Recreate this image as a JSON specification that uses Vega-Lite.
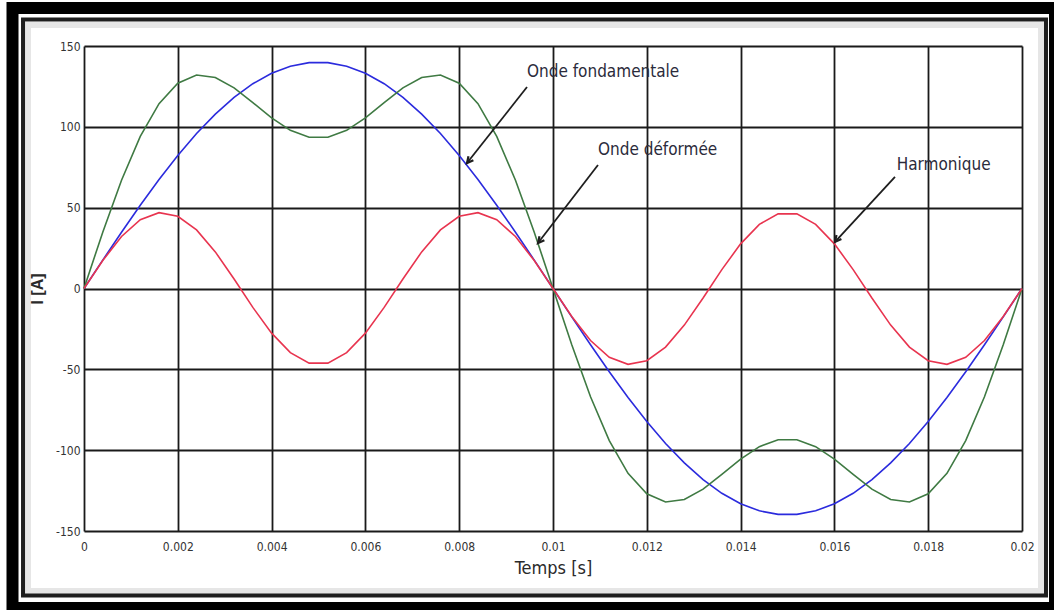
{
  "$schema": "https://vega.github.io/schema/vega-lite/v6.json",
  "width": 938,
  "height": 485,
  "autosize": {"type": "none"},
  "padding": {"left": 84, "top": 46, "right": 32, "bottom": 79},
  "background": "#ffffff",
  "config": {
    "view": {"stroke": null},
    "axis": {
      "domain": false,
      "ticks": false,
      "grid": true,
      "gridColor": "#1a1a1a",
      "gridWidth": 1.8,
      "gridOpacity": 1,
      "labelFont": "'DejaVu Sans Condensed', 'Liberation Sans', sans-serif",
      "labelFontSize": 12,
      "labelColor": "#333333",
      "titleColor": "#2a2a2a"
    }
  },
  "encoding": {
    "x": {
      "field": "t", "type": "quantitative",
      "scale": {"domain": [0, 0.02], "nice": false, "zero": false},
      "axis": {
        "title": "Temps [s]",
        "values": [0, 0.002, 0.004, 0.006, 0.008, 0.01, 0.012, 0.014, 0.016, 0.018, 0.02],
        "labelExpr": "'' + datum.value",
        "labelFlush": false,
        "labelPadding": 10,
        "titleFont": "'DejaVu Sans Condensed', 'Liberation Sans', sans-serif",
        "titleFontSize": 18,
        "titleFontWeight": "normal",
        "titlePadding": 7
      }
    },
    "y": {
      "field": "i", "type": "quantitative",
      "scale": {"domain": [-150, 150], "nice": false, "zero": false},
      "axis": {
        "title": "I [A]",
        "values": [-150, -100, -50, 0, 50, 100, 150],
        "labelExpr": "'' + datum.value",
        "labelFlush": false,
        "labelPadding": 4,
        "titleFont": "'Liberation Sans', sans-serif",
        "titleFontSize": 16,
        "titleFontWeight": "bold",
        "titlePadding": 10
      }
    }
  },
  "layer": [
    {
      "data": {"values": [{"t": -0.0015245, "t2": 0.020704, "i": 173.5, "i2": -197.6}]},
      "mark": {"type": "rect", "filled": false, "stroke": "#000000", "strokeWidth": 12},
      "encoding": {"x2": {"field": "t2"}, "y2": {"field": "i2"}}
    },
    {
      "data": {"values": [{"t": -0.001194, "t2": 0.020405, "i": 163.0, "i2": -187.1}]},
      "mark": {"type": "rect", "filled": false, "stroke": "#9a9a9a", "strokeWidth": 6, "strokeOpacity": 0.25},
      "encoding": {"x2": {"field": "t2"}, "y2": {"field": "i2"}}
    },
    {
      "data": {"values": [{"t": -0.0013, "t2": 0.020512, "i": 166.4, "i2": -189.9}]},
      "mark": {"type": "rect", "filled": false, "stroke": "#1e1e1e", "strokeWidth": 4},
      "encoding": {"x2": {"field": "t2"}, "y2": {"field": "i2"}}
    },
    {
      "data": {"values": [
        {"t": 0, "fond": 0, "harm": 0, "def": 0},
        {"t": 0.0004, "fond": 17.55, "harm": 17.30, "def": 34.85},
        {"t": 0.0008, "fond": 34.82, "harm": 32.17, "def": 66.99},
        {"t": 0.0012, "fond": 51.54, "harm": 42.53, "def": 94.07},
        {"t": 0.0016, "fond": 67.45, "harm": 46.91, "def": 114.36},
        {"t": 0.002, "fond": 82.29, "harm": 44.70, "def": 126.99},
        {"t": 0.0024, "fond": 95.84, "harm": 36.21, "def": 132.05},
        {"t": 0.0028, "fond": 107.87, "harm": 22.64, "def": 130.51},
        {"t": 0.0032, "fond": 118.21, "harm": 5.89, "def": 124.10},
        {"t": 0.0036, "fond": 126.68, "harm": -11.69, "def": 114.99},
        {"t": 0.004, "fond": 133.15, "harm": -27.63, "def": 105.52},
        {"t": 0.0044, "fond": 137.52, "harm": -39.68, "def": 97.84},
        {"t": 0.0048, "fond": 139.72, "harm": -46.17, "def": 93.55},
        {"t": 0.0052, "fond": 139.72, "harm": -46.17, "def": 93.55},
        {"t": 0.0056, "fond": 137.52, "harm": -39.68, "def": 97.84},
        {"t": 0.006, "fond": 133.15, "harm": -27.63, "def": 105.52},
        {"t": 0.0064, "fond": 126.68, "harm": -11.69, "def": 114.99},
        {"t": 0.0068, "fond": 118.21, "harm": 5.89, "def": 124.10},
        {"t": 0.0072, "fond": 107.87, "harm": 22.64, "def": 130.51},
        {"t": 0.0076, "fond": 95.84, "harm": 36.21, "def": 132.05},
        {"t": 0.008, "fond": 82.29, "harm": 44.70, "def": 126.99},
        {"t": 0.0084, "fond": 67.45, "harm": 46.91, "def": 114.36},
        {"t": 0.0088, "fond": 51.54, "harm": 42.53, "def": 94.07},
        {"t": 0.0092, "fond": 34.82, "harm": 32.17, "def": 66.99},
        {"t": 0.0096, "fond": 17.55, "harm": 17.30, "def": 34.85},
        {"t": 0.01, "fond": 0, "harm": 0, "def": 0},
        {"t": 0.0104, "fond": -17.55, "harm": -17.30, "def": -34.85},
        {"t": 0.0108, "fond": -34.82, "harm": -32.17, "def": -66.99},
        {"t": 0.0112, "fond": -51.54, "harm": -42.53, "def": -94.07},
        {"t": 0.0116, "fond": -67.45, "harm": -46.91, "def": -114.36},
        {"t": 0.012, "fond": -82.29, "harm": -44.70, "def": -126.99},
        {"t": 0.0124, "fond": -95.84, "harm": -36.21, "def": -132.05},
        {"t": 0.0128, "fond": -107.87, "harm": -22.64, "def": -130.51},
        {"t": 0.0132, "fond": -118.21, "harm": -5.89, "def": -124.10},
        {"t": 0.0136, "fond": -126.68, "harm": 11.69, "def": -114.99},
        {"t": 0.014, "fond": -133.15, "harm": 27.63, "def": -105.52},
        {"t": 0.0144, "fond": -137.52, "harm": 39.68, "def": -97.84},
        {"t": 0.0148, "fond": -139.72, "harm": 46.17, "def": -93.55},
        {"t": 0.0152, "fond": -139.72, "harm": 46.17, "def": -93.55},
        {"t": 0.0156, "fond": -137.52, "harm": 39.68, "def": -97.84},
        {"t": 0.016, "fond": -133.15, "harm": 27.63, "def": -105.52},
        {"t": 0.0164, "fond": -126.68, "harm": 11.69, "def": -114.99},
        {"t": 0.0168, "fond": -118.21, "harm": -5.89, "def": -124.10},
        {"t": 0.0172, "fond": -107.87, "harm": -22.64, "def": -130.51},
        {"t": 0.0176, "fond": -95.84, "harm": -36.21, "def": -132.05},
        {"t": 0.018, "fond": -82.29, "harm": -44.70, "def": -126.99},
        {"t": 0.0184, "fond": -67.45, "harm": -46.91, "def": -114.36},
        {"t": 0.0188, "fond": -51.54, "harm": -42.53, "def": -94.07},
        {"t": 0.0192, "fond": -34.82, "harm": -32.17, "def": -66.99},
        {"t": 0.0196, "fond": -17.55, "harm": -17.30, "def": -34.85},
        {"t": 0.02, "fond": 0, "harm": 0, "def": 0}
      ]},
      "transform": [{"fold": ["fond", "def", "harm"], "as": ["serie", "i"]}],
      "mark": {"type": "line", "strokeWidth": 1.6},
      "encoding": {
        "color": {
          "field": "serie", "type": "nominal",
          "scale": {"domain": ["fond", "def", "harm"], "range": ["#2b2bdd", "#3f7a43", "#e8344f"]},
          "legend": null
        }
      }
    },
    {
      "data": {"values": [
        {"t": 0.009446, "i": 124.6, "t2": 0.008166, "i2": 77.6},
        {"t": 0.010959, "i": 76.4, "t2": 0.00968, "i2": 28.1},
        {"t": 0.017292, "i": 69.0, "t2": 0.016013, "i2": 28.8}
      ]},
      "mark": {"type": "rule", "stroke": "#1e1e1e", "strokeWidth": 1.8},
      "encoding": {"x2": {"field": "t2"}, "y2": {"field": "i2"}}
    },
    {
      "data": {"values": [
        {"t": 0.008166, "i": 77.6},
        {"t": 0.00968, "i": 28.1},
        {"t": 0.016013, "i": 28.8}
      ]},
      "mark": {"type": "point", "shape": "M-0.55,1.1L0,0L0.55,1.1", "filled": false, "stroke": "#1e1e1e", "strokeWidth": 2.2, "size": 130, "angle": 219, "opacity": 1}
    },
    {
      "data": {"values": [
        {"t": 0.009446, "i": 133.9, "label": "Onde fondamentale"},
        {"t": 0.010959, "i": 85.7, "label": "Onde déformée"},
        {"t": 0.017328, "i": 76.4, "label": "Harmonique"}
      ]},
      "mark": {"type": "text", "align": "left", "baseline": "middle", "font": "'DejaVu Sans Condensed', 'Liberation Sans', sans-serif", "fontSize": 17, "color": "#2b2b3b"},
      "encoding": {"text": {"field": "label"}}
    }
  ]
}
